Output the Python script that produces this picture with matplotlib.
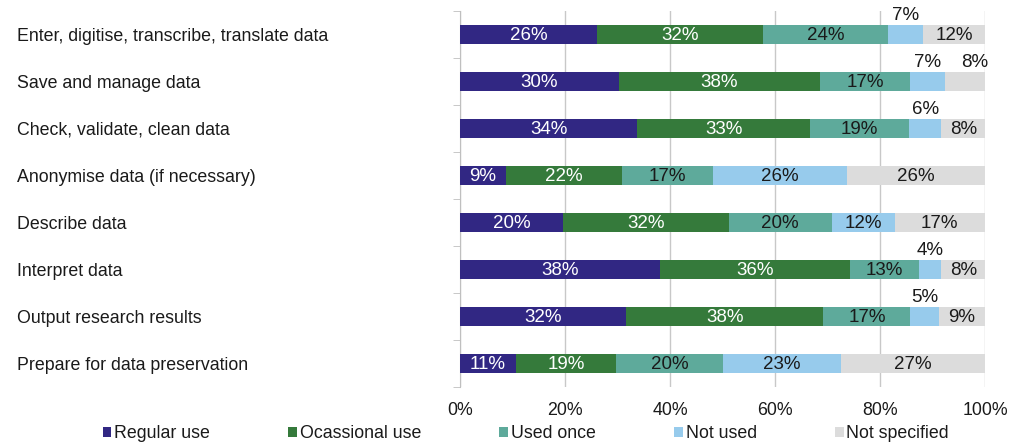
import matplotlib
matplotlib.use("Agg")
import matplotlib.pyplot as plt
import numpy as np

plt.rcParams['font.family'] = ['Liberation Sans', 'DejaVu Sans']

categories = [
    "Enter, digitise, transcribe, translate data",
    "Save and manage data",
    "Check, validate, clean data",
    "Anonymise data (if necessary)",
    "Describe data",
    "Interpret data",
    "Output research results",
    "Prepare for data preservation",
]
series_names = ["Regular use", "Ocassional use", "Used once", "Not used", "Not specified"]

regular_use    = [26.1, 30.3, 33.8,  8.8, 19.6, 38.0, 31.6, 10.6]
occasional_use = [31.7, 38.2, 32.8, 22.0, 31.6, 36.3, 37.6, 19.2]
used_once      = [23.8, 17.3, 19.0, 17.3, 19.6, 13.2, 16.6, 20.2]
not_used       = [ 6.6,  6.6,  6.1, 25.7, 12.0,  4.2,  5.4, 22.6]
not_specified  = [11.8,  7.6,  8.3, 26.2, 17.2,  8.3,  8.8, 27.4]

xtick_labels = ["0%", "20%", "40%", "60%", "80%", "100%"]

colors = ["#312783", "#357A3B", "#5EAA9B", "#97CBEC", "#DCDCDC"]
text_colors = ["white", "white", "#1a1a1a", "#1a1a1a", "#1a1a1a"]

# segments whose labels sit above the bar (row, series)
above = {(0, 3), (1, 3), (1, 4), (2, 3), (5, 3), (6, 3)}

series = [regular_use, occasional_use, used_once, not_used, not_specified]

fig = plt.figure(figsize=(10.21, 4.45), dpi=100)
ax = fig.add_axes([460 / 1021, 1 - 387 / 445, 525 / 1021, 376 / 445])

y = np.arange(len(categories))
left = np.zeros(len(categories))
bar_h = 0.42
for si, (vals, name, col) in enumerate(zip(series, series_names, colors)):
    vals = np.array(vals)
    ax.barh(y, vals, left=left, height=bar_h, color=col, label=name, zorder=3)
    for ri, v in enumerate(vals):
        cx = left[ri] + v / 2
        txt = f"{round(v):d}%"
        if (ri, si) in above:
            if si == 4:
                cx = left[ri] + v * 0.75
            ax.text(cx, y[ri] - bar_h / 2 - 0.02, txt, ha="center", va="bottom",
                    fontsize=13.5, color="#1a1a1a", zorder=4)
        else:
            ax.text(cx, y[ri] + 0.02, txt, ha="center", va="center",
                    fontsize=13.5, color=text_colors[si], zorder=4)
    left += vals

ax.set_xlim(0, 100)
ax.set_ylim(len(categories) - 0.5, -0.5)
ax.set_xticks(np.arange(0, 101, 20))
ax.set_xticklabels(xtick_labels, fontsize=12.8, color="#1a1a1a")
ax.tick_params(axis="x", length=0, pad=11)
ax.xaxis.grid(True, color="#C8C8C8", linewidth=1, zorder=0)

ax.set_yticks(y)
ax.set_yticklabels(categories, fontsize=12.8, color="#1a1a1a", ha="left")
ax.tick_params(axis="y", which="major", length=0, pad=443 * 72 / 100)
ax.set_yticks(np.arange(-0.5, len(categories), 1), minor=True)
ax.tick_params(axis="y", which="minor", length=5, color="#BFBFBF", direction="out")

for s in ["top", "right", "bottom"]:
    ax.spines[s].set_visible(False)
ax.spines["left"].set_color("#BFBFBF")

fig.legend(loc="lower center", bbox_to_anchor=(0.515, -0.03), ncol=5, frameon=False,
           fontsize=12.8, handlelength=0.5, handleheight=0.5, handletextpad=0.15,
           columnspacing=4.4, labelcolor="#1a1a1a")

fig.savefig("out.png", dpi=100)
